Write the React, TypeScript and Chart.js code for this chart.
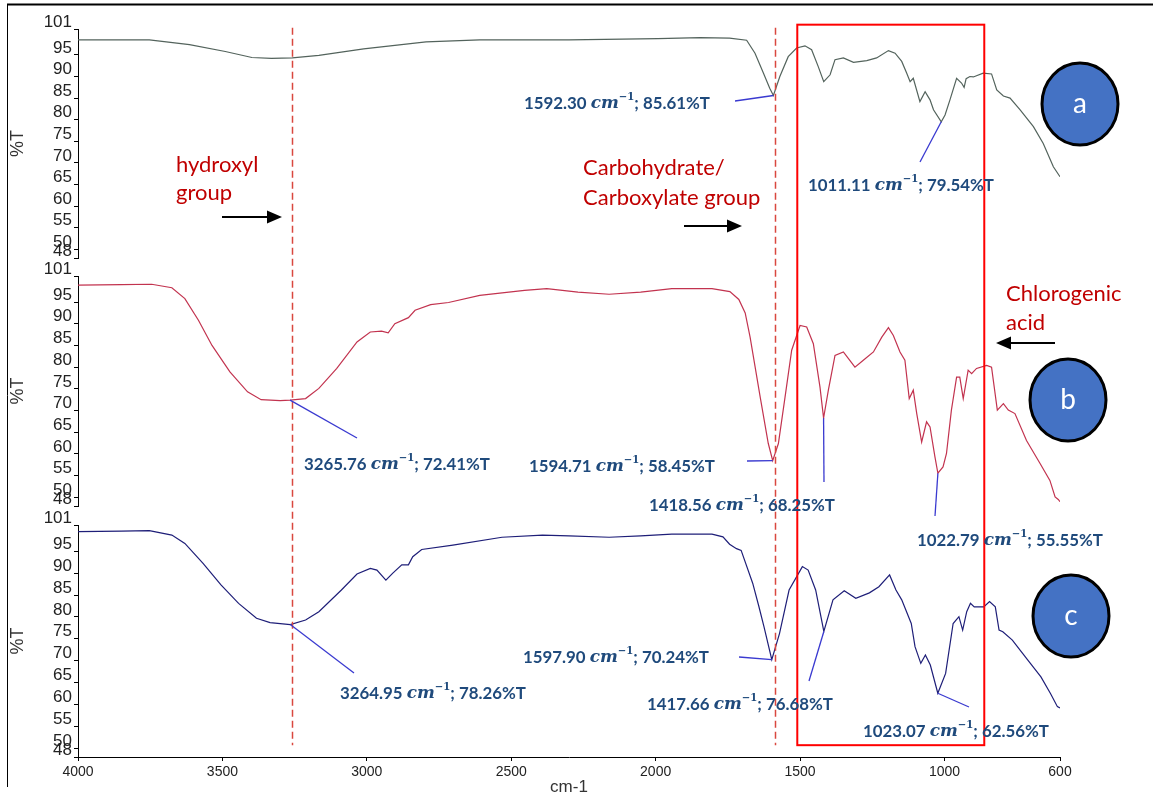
import React, { useEffect, useRef } from "react";
import { Chart, registerables } from "chart.js";

Chart.register(...registerables);

// ---------- data ----------
const X_TICKS = [4000, 3500, 3000, 2500, 2000, 1500, 1000, 600];
const Y_TICKS = [101, 95, 90, 85, 80, 75, 70, 65, 60, 55, 50, 48];

// [wavenumber cm-1, %T]
const SPECTRUM_A: [number, number][] = [
  [4000, 98.5], [3900, 98.5], [3753, 98.5], [3614, 97.4], [3490, 95.8], [3398, 94.4], [3330, 94.2],
  [3258, 94.3], [3166, 94.9], [3011, 96.4], [2795, 98.0], [2609, 98.5], [2300, 98.5], [1992, 98.75],
  [1846, 99.0], [1744, 98.9], [1685, 98.4], [1656, 95.4], [1627, 90.8], [1605, 87.3], [1592.3, 85.61],
  [1570, 90.0], [1541, 94.6], [1512, 96.6], [1483, 97.1], [1460, 96.2], [1437, 92.3], [1418, 88.8],
  [1396, 90.4], [1379, 93.9], [1350, 94.3], [1315, 93.3], [1269, 93.7], [1235, 94.3], [1194, 96.0],
  [1171, 95.4], [1148, 93.5], [1131, 90.8], [1119, 88.8], [1108, 89.6], [1085, 84.2], [1067, 86.5],
  [1050, 84.6], [1038, 82.3], [1011.11, 79.54], [998, 81.1], [981, 84.6], [958, 89.6], [941, 88.5],
  [932, 87.5], [925, 89.5], [912, 90.0], [900, 89.9], [866, 90.8], [837, 90.6], [819, 86.9], [796, 85.5],
  [773, 85.0], [738, 82.3], [692, 78.4], [658, 74.5], [623, 69.1], [600, 66.8],
];

const SPECTRUM_B: [number, number][] = [
  [4000, 98.9], [3850, 99.0], [3745, 99.1], [3675, 98.3], [3630, 95.8], [3583, 90.8], [3536, 85.0],
  [3474, 78.9], [3413, 74.3], [3366, 72.5], [3300, 72.3], [3265.76, 72.41], [3212, 72.75], [3166, 75.1],
  [3104, 79.7], [3034, 85.8], [2988, 88.1], [2949, 88.3], [2926, 87.9], [2903, 90.0], [2856, 91.4],
  [2833, 93.1], [2779, 94.4], [2717, 94.9], [2609, 96.55], [2454, 97.7], [2377, 98.1], [2269, 97.3],
  [2161, 96.8], [2052, 97.3], [1944, 98.1], [1805, 98.1], [1743, 97.4], [1712, 95.6], [1690, 92.5],
  [1673, 86.9], [1638, 73.1], [1610, 62.4], [1594.71, 58.45], [1575, 62.4], [1552, 73.1], [1529, 83.9],
  [1500, 89.6], [1477, 89.25], [1454, 85.4], [1431, 75.4], [1418.56, 68.25], [1402, 74.7], [1379, 82.7],
  [1350, 83.5], [1333, 82.0], [1310, 80.0], [1281, 81.6], [1246, 83.5], [1217, 86.9], [1194, 89.1],
  [1177, 87.3], [1154, 83.5], [1137, 81.6], [1122, 72.75], [1108, 74.7], [1096, 69.3], [1079, 62.75],
  [1062, 67.4], [1050, 66.2], [1033, 59.3], [1022.79, 55.55], [1005, 57.0], [993, 60.1], [976, 70.1],
  [958, 77.7], [947, 77.7], [935, 72.75], [918, 79.3], [906, 78.5], [889, 79.7], [854, 80.4], [837, 80.0],
  [817, 70.1], [796, 71.6], [779, 70.1], [756, 69.3], [716, 63.1], [669, 57.8], [635, 53.9], [617, 50.1],
  [606, 49.5], [600, 49.0],
];

const SPECTRUM_C: [number, number][] = [
  [4000, 99.5], [3850, 99.6], [3753, 99.7], [3675, 98.7], [3630, 96.8], [3567, 92.25], [3505, 87.3],
  [3444, 83.1], [3382, 79.7], [3335, 78.7], [3264.95, 78.26], [3212, 79.3], [3166, 81.2], [3088, 86.15],
  [3034, 89.8], [2988, 91.1], [2965, 90.7], [2934, 88.4], [2910, 90.0], [2879, 91.9], [2856, 91.9],
  [2841, 93.75], [2810, 95.4], [2702, 96.4], [2532, 98.2], [2392, 98.7], [2300, 98.5], [2161, 98.2],
  [2052, 98.5], [1944, 98.9], [1805, 98.9], [1767, 98.3], [1744, 96.6], [1720, 95.6], [1704, 95.2],
  [1664, 87.7], [1643, 82.5], [1625, 77.8], [1597.9, 70.24], [1571, 76.25], [1538, 86.15], [1492, 91.5],
  [1472, 90.7], [1446, 86.15], [1417.66, 76.68], [1386, 83.9], [1347, 86.0], [1307, 84.25], [1260, 85.5],
  [1227, 86.9], [1190, 89.6], [1168, 86.15], [1148, 83.9], [1115, 78.5], [1102, 73.2], [1082, 69.4],
  [1066, 71.3], [1049, 69.0], [1023.07, 62.56], [996, 67.1], [970, 78.5], [950, 80.05], [937, 77.0],
  [923, 81.2], [910, 83.1], [897, 82.3], [864, 82.3], [844, 83.5], [824, 82.3], [811, 77.0], [798, 76.6],
  [765, 74.7], [712, 70.2], [666, 66.3], [633, 62.5], [609, 59.5], [600, 59.2],
];

// annotated peaks
const PEAK_PANEL = ["yA", "yA", "yB", "yB", "yB", "yB", "yC", "yC", "yC", "yC"];
const PEAK_WN = [1592.30, 1011.11, 3265.76, 1594.71, 1418.56, 1022.79, 3264.95, 1597.90, 1417.66, 1023.07];
const PEAK_T = [85.61, 79.54, 72.41, 58.45, 68.25, 55.55, 78.26, 70.24, 76.68, 62.56];

// marker lines / highlight region (wavenumber, %T)
const DASH_WN = [3259, 1588];
const DASH_T_RANGE = [101.3, 50.7]; // top on panel a, bottom on panel c
const HIGHLIGHT_WN = [1509.6, 862.2];
const HIGHLIGHT_T_RANGE = [102.0, 50.7];

// ---------- layout / style (pixels) ----------
const PEAK_LABEL_POS: [number, number][] = [
  [524, 104], [808, 186], [304, 465], [529, 467], [649, 506], [917, 541],
  [340, 694], [523, 658], [647, 705], [863, 732],
];
const LEADER_END: [number, number][] = [
  [735, 101], [920, 162], [357, 438], [747, 461], [824, 482], [935, 516],
  [354, 673], [739, 657], [809, 681], [969, 707],
];
const PEAK_LABEL_WIDTH = 186;

const NOTE_LINES: [string, number, number][] = [
  ["hydroxyl", 176, 165], ["group", 176, 193],
  ["Carbohydrate/", 583, 168], ["Carboxylate group", 583, 198],
  ["Chlorogenic", 1006, 294], ["acid", 1006, 323],
];
const ARROWS: [number, number, number][] = [
  [222, 282, 217], [684, 742, 226], [1055, 996, 343],
];
const BADGES: [string, number, number][] = [
  ["a", 1080, 104], ["b", 1068, 400], ["c", 1071, 616],
];

const FONT_AX = "'Liberation Sans', Arial, sans-serif";
const FONT_NARROW = "'Liberation Sans Narrow', 'Liberation Sans', Arial, sans-serif";
const LABEL_FONT = "Lato, 'Liberation Sans', sans-serif";
const MATH_FONT = "'DejaVu Serif', serif";

function drawPeakLabel(ctx: CanvasRenderingContext2D, left: number, midY: number, wn: number, t: number) {
  const parts = [
    { text: wn.toFixed(2) + " ", font: (s: number) => `bold ${s}px ${LABEL_FONT}`, dy: 0 },
    { text: "cm", font: (s: number) => `italic bold ${s}px ${MATH_FONT}`, dy: 0 },
    { text: "\u22121", font: (s: number) => `bold ${s * 0.6}px ${MATH_FONT}`, dy: -0.38 },
    { text: "; " + t.toFixed(2) + "%T", font: (s: number) => `bold ${s}px ${LABEL_FONT}`, dy: 0 },
  ];
  const base = 17;
  let w = 0;
  for (const p of parts) {
    ctx.font = p.font(base);
    w += ctx.measureText(p.text).width;
  }
  const s = (base * PEAK_LABEL_WIDTH) / w;
  let cx = left;
  ctx.fillStyle = "#1f4a7c";
  ctx.textBaseline = "middle";
  ctx.textAlign = "left";
  for (const p of parts) {
    ctx.font = p.font(s);
    ctx.fillText(p.text, cx, midY + p.dy * s);
    cx += ctx.measureText(p.text).width;
  }
}

function drawArrow(ctx: CanvasRenderingContext2D, x0: number, x1: number, y: number) {
  const dir = Math.sign(x1 - x0);
  ctx.strokeStyle = "#000";
  ctx.fillStyle = "#000";
  ctx.lineWidth = 2;
  ctx.beginPath();
  ctx.moveTo(x0, y);
  ctx.lineTo(x1 - dir * 12, y);
  ctx.stroke();
  ctx.beginPath();
  ctx.moveTo(x1, y);
  ctx.lineTo(x1 - dir * 15, y - 6.5);
  ctx.lineTo(x1 - dir * 15, y + 6.5);
  ctx.closePath();
  ctx.fill();
}

const overlayPlugin = {
  id: "overlay",
  beforeDraw(chart: any) {
    const { ctx, width, height } = chart;
    ctx.save();
    ctx.fillStyle = "#fff";
    ctx.fillRect(0, 0, width, height);
    ctx.strokeStyle = "#000";
    ctx.lineWidth = 2;
    ctx.beginPath();
    ctx.moveTo(7, 4.5);
    ctx.lineTo(width, 4.5);
    ctx.stroke();
    ctx.lineWidth = 1;
    ctx.beginPath();
    ctx.moveTo(7.5, 4);
    ctx.lineTo(7.5, 787);
    ctx.stroke();
    ctx.restore();
  },
  afterDraw(chart: any) {
    const ctx: CanvasRenderingContext2D = chart.ctx;
    const xs = chart.scales.x;
    const ya = chart.scales.yA;
    const yc = chart.scales.yC;
    ctx.save();

    // highlight rectangle
    const rx0 = xs.getPixelForValue(HIGHLIGHT_WN[0]);
    const rx1 = xs.getPixelForValue(HIGHLIGHT_WN[1]);
    const ry0 = ya.getPixelForValue(HIGHLIGHT_T_RANGE[0]);
    const ry1 = yc.getPixelForValue(HIGHLIGHT_T_RANGE[1]);
    ctx.strokeStyle = "#ff0000";
    ctx.lineWidth = 2;
    ctx.strokeRect(rx0, ry0, rx1 - rx0, ry1 - ry0);

    // dashed marker lines
    ctx.setLineDash([7, 4]);
    ctx.strokeStyle = "#d9473f";
    ctx.lineWidth = 1.5;
    for (const wn of DASH_WN) {
      const px = Math.round(xs.getPixelForValue(wn)) + 0.5;
      ctx.beginPath();
      ctx.moveTo(px, ya.getPixelForValue(DASH_T_RANGE[0]));
      ctx.lineTo(px, yc.getPixelForValue(DASH_T_RANGE[1]));
      ctx.stroke();
    }
    ctx.setLineDash([]);

    // leader lines + peak labels
    for (let i = 0; i < PEAK_WN.length; i++) {
      const ys = chart.scales[PEAK_PANEL[i]];
      const px = xs.getPixelForValue(PEAK_WN[i]);
      const py = ys.getPixelForValue(PEAK_T[i]);
      ctx.strokeStyle = "#3a3ad0";
      ctx.lineWidth = 1.3;
      ctx.beginPath();
      ctx.moveTo(px, py);
      ctx.lineTo(LEADER_END[i][0], LEADER_END[i][1]);
      ctx.stroke();
      drawPeakLabel(ctx, PEAK_LABEL_POS[i][0], PEAK_LABEL_POS[i][1], PEAK_WN[i], PEAK_T[i]);
    }

    // red notes
    ctx.fillStyle = "#c00000";
    ctx.textBaseline = "middle";
    ctx.textAlign = "left";
    ctx.font = `22px ${LABEL_FONT}`;
    for (const [txt, x, y] of NOTE_LINES) ctx.fillText(txt, x, y);

    // arrows
    for (const [x0, x1, y] of ARROWS) drawArrow(ctx, x0, x1, y);

    // badges
    for (const [txt, cx, cy] of BADGES) {
      ctx.beginPath();
      ctx.ellipse(cx, cy, 38, 41, 0, 0, Math.PI * 2);
      ctx.fillStyle = "#4472c4";
      ctx.fill();
      ctx.lineWidth = 3;
      ctx.strokeStyle = "#000";
      ctx.stroke();
      ctx.fillStyle = "#fff";
      ctx.font = `28px ${LABEL_FONT}`;
      ctx.textAlign = "center";
      ctx.textBaseline = "middle";
      ctx.fillText(txt, cx, cy);
    }
    ctx.restore();
  },
};

function yAxis(weight: number, stackWeight: number) {
  return {
    type: "linear",
    position: "left",
    stack: "panels",
    stackWeight,
    weight,
    min: 48,
    max: 101,
    afterBuildTicks: (s: any) => {
      s.ticks = Y_TICKS.map((v) => ({ value: v }));
    },
    afterFit: (s: any) => {
      s.width = 78;
    },
    ticks: {
      autoSkip: false,
      labelOffset: -7,
      padding: 2,
      color: "#222",
      font: { family: FONT_NARROW, size: 17 },
      callback: (v: any) => String(v),
    },
    grid: { drawOnChartArea: false, drawTicks: true, tickLength: 4, color: "#000", lineWidth: 1 },
    border: { display: true, color: "#000", width: 1 },
    title: {
      display: true,
      text: "%T",
      color: "#333",
      font: { family: FONT_AX, size: 18, lineHeight: 1 },
      padding: { top: 9, bottom: 0 },
    },
  };
}

function gapAxis(weight: number, stackWeight: number) {
  return {
    type: "linear",
    position: "left",
    stack: "panels",
    stackWeight,
    weight,
    display: false,
    min: 0,
    max: 1,
  };
}

const toPts = (arr: [number, number][]) => arr.map(([x, y]) => ({ x, y }));

export default function App() {
  const ref = useRef<HTMLCanvasElement>(null);
  useEffect(() => {
    if (!ref.current) return;
    const chart = new Chart(ref.current, {
      type: "line",
      data: {
        datasets: [
          { label: "a", data: toPts(SPECTRUM_A), yAxisID: "yA", borderColor: "#53635c", borderWidth: 1.2, pointRadius: 0, tension: 0, fill: false },
          { label: "b", data: toPts(SPECTRUM_B), yAxisID: "yB", borderColor: "#c2334f", borderWidth: 1.2, pointRadius: 0, tension: 0, fill: false },
          { label: "c", data: toPts(SPECTRUM_C), yAxisID: "yC", borderColor: "#1e1e78", borderWidth: 1.2, pointRadius: 0, tension: 0, fill: false },
        ],
      } as any,
      options: {
        responsive: false,
        animation: false,
        events: [],
        layout: { padding: { top: 29, left: 0, right: 93, bottom: 0 } },
        plugins: { legend: { display: false }, tooltip: { enabled: false } },
        scales: {
          x: {
            type: "linear",
            position: "bottom",
            min: 600,
            max: 4000,
            reverse: true,
            afterBuildTicks: (s: any) => {
              s.ticks = X_TICKS.map((v) => ({ value: v }));
            },
            afterFit: (s: any) => {
              s.height = 39;
            },
            ticks: {
              autoSkip: false,
              maxRotation: 0,
              padding: 3,
              color: "#222",
              font: { family: FONT_AX, size: 14 },
              callback: (v: any) => String(v),
            },
            grid: { drawOnChartArea: false, drawTicks: true, tickLength: 4, color: "#000" },
            border: { display: true, color: "#000" },
            title: {
              display: true,
              text: "cm-1",
              color: "#333",
              font: { family: FONT_AX, size: 17, lineHeight: 1 },
              padding: { top: 0, bottom: 0 },
            },
          },
          yA: yAxis(5, 229),
          g1: gapAxis(4, 18),
          yB: yAxis(3, 230),
          g2: gapAxis(2, 19),
          yC: yAxis(1, 232),
        } as any,
      },
      plugins: [overlayPlugin],
    });
    return () => chart.destroy();
  }, []);
  return (
    <div style={{ position: "fixed", left: 0, top: 0, width: 1153, height: 796, background: "#fff" }}>
      <canvas ref={ref} width={1153} height={796} style={{ display: "block", width: 1153, height: 796 }} />
    </div>
  );
}
